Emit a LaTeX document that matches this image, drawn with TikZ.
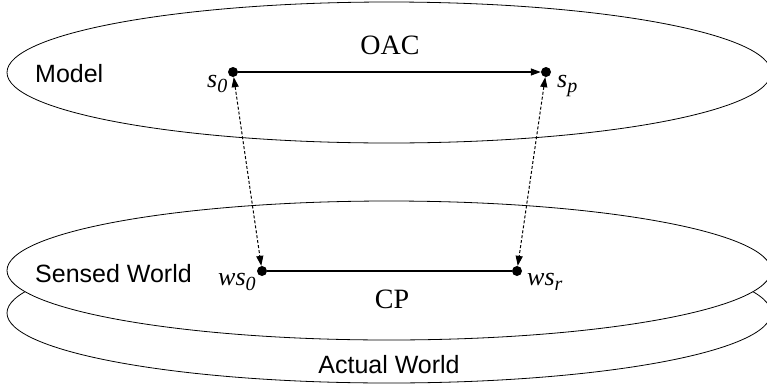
\documentclass[tikz,border=0pt]{standalone}
\usepackage{fontspec}
\setmainfont{Liberation Serif}
\setsansfont{Liberation Sans}
\usetikzlibrary{arrows.meta, positioning}
\newcommand{\statelbl}[2]{\textit{#1}\raisebox{-5pt}{\fontsize{20}{24}\selectfont\textit{#2}}}

\begin{document}
\begin{tikzpicture}[x=1pt, y=-1pt,
    world/.style={draw, fill=white, line width=0.8pt},
    dot/.style={circle, fill=black, inner sep=0pt, minimum size=10pt},
    region/.style={font=\sffamily\fontsize{25}{30}\selectfont, inner sep=0pt},
    proc/.style={font=\fontsize{28}{32}\selectfont, inner sep=0pt},
    state/.style={font=\fontsize{26}{30}\selectfont, inner sep=0pt},
    link/.style={-{Triangle[length=10pt,width=7pt]}, line width=1.2pt},
    map/.style={{Triangle[length=10pt,width=7pt]}-{Triangle[length=10pt,width=7pt]}, line width=1pt, dash pattern=on 3pt off 2pt}
]
\useasboundingbox (0,0) rectangle (767,386);
% the three layers
\draw[world] (389,313) ellipse [x radius=382, y radius=70];
\draw[world] (389,270.5) ellipse [x radius=382, y radius=69.5];
\draw[world] (389,72.5) ellipse [x radius=382, y radius=70.5];

\node[region, anchor=base west] (model) at (35,82) {Model};
\node[region, anchor=base west] (sensed) at (35,282) {Sensed World};
\node[region, anchor=base] (actual) at (389,373) {Actual World};

\node[dot] (s0) at (233,72) {};
\node[dot] (sp) at (546,72) {};
\node[dot] (ws0) at (262,271) {};
\node[dot] (wsr) at (517,271) {};

\node[state, anchor=base west] (s0lbl) at (207,87) {\statelbl{s}{0}};
\node[state, anchor=base west] (splbl) at (557,87) {\statelbl{s}{p}};
\node[state, anchor=base west] (ws0lbl) at (218,285) {\statelbl{ws}{0}};
\node[state, anchor=base west] (wsrlbl) at (527,285) {\statelbl{ws}{r}};

\node[proc, anchor=base] (oac) at (390,54) {OAC};
\node[proc, anchor=base] (cp) at (392,308) {CP};

\draw[link] (s0) -- (sp);
\draw[line width=1.2pt] (ws0) -- (wsr);
\draw[map] (s0) -- (ws0);
\draw[map] (sp) -- (wsr);
\end{tikzpicture}
\end{document}
